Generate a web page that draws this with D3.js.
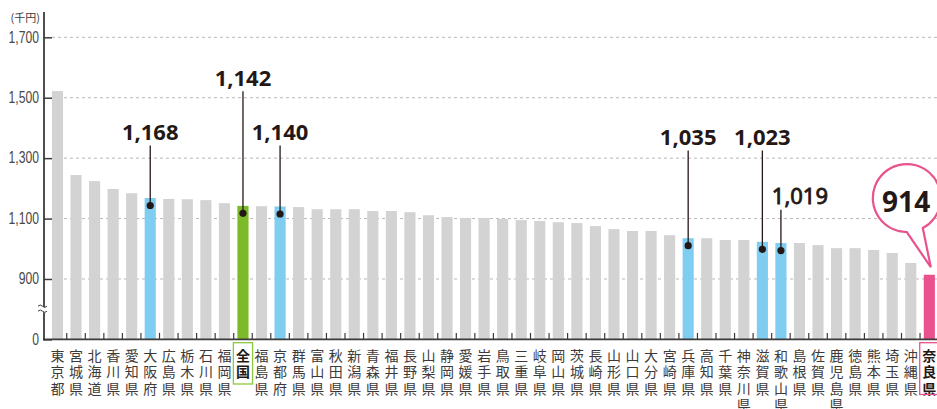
<!DOCTYPE html>
<html><head><meta charset="utf-8">
<script src="https://cdn.jsdelivr.net/npm/d3@7/dist/d3.min.js"></script>
<style>
html,body{margin:0;padding:0;background:#fff;}
svg{display:block;}
</style></head>
<body>
<svg id="chart" width="937" height="409"></svg>
<script>
const categories = ["東京都","宮城県","北海道","香川県","愛知県","大阪府","広島県","栃木県","石川県","福岡県","全国","福島県","京都府","群馬県","富山県","秋田県","新潟県","青森県","福井県","長野県","山梨県","静岡県","愛媛県","岩手県","鳥取県","三重県","岐阜県","岡山県","茨城県","長崎県","山形県","山口県","大分県","宮崎県","兵庫県","高知県","千葉県","神奈川県","滋賀県","和歌山県","島根県","佐賀県","鹿児島県","徳島県","熊本県","埼玉県","沖縄県","奈良県"];
const values = [1522,1244,1224,1198,1184,1168,1165,1164,1161,1151,1142,1141,1140,1138,1131,1131,1131,1125,1125,1121,1111,1105,1102,1102,1099,1095,1092,1088,1085,1075,1065,1059,1059,1045,1035,1035,1029,1029,1023,1019,1019,1012,1002,1002,996,986,953,914];
const tickValues = [700,900,1100,1300,1500,1700];
const tickLabels = ["0","900","1,100","1,300","1,500","1,700"];
const unitLabel = "(千円)";
const blueBars = ["大阪府","京都府","兵庫県","滋賀県","和歌山県"];
const nationalBar = "全国";
const focusBar = "奈良県";
const calloutBars = ["大阪府","全国","京都府","兵庫県","滋賀県","和歌山県"];

const COL = {gray:"#d3d3d3", blue:"#7fcdf1", green:"#7cba2a", pink:"#e9528d", ink:"#231815", text:"#3e3a39", grid:"#b8b8b8", greenBox:"#8cc63f"};

// callout layout (pixel baseline of label, horizontal offset, semibold)
const calloutLayout = {
  "大阪府":{by:140, dx:0, semi:false},
  "全国":{by:85.7, dx:0, semi:false},
  "京都府":{by:140, dx:0, semi:false},
  "兵庫県":{by:145, dx:0, semi:false},
  "滋賀県":{by:145, dx:0, semi:false},
  "和歌山県":{by:204.3, dx:19, semi:true}
};

const svg = d3.select("#chart");
const y = d3.scaleLinear().domain([700,1700]).range([339.4,37.3]);
const x = d3.scaleBand().domain(categories).range([48.2,938.6]).paddingInner(0.4).paddingOuter(0.2);
const data = categories.map((c,i)=>({c, v:values[i]}));
const fmt = d3.format(",");
const axisX = 44;

// gridlines
svg.append("g").selectAll("line").data(tickValues.slice(1)).join("line")
  .attr("x1",52).attr("x2",937).attr("y1",d=>y(d)).attr("y2",d=>y(d))
  .attr("stroke",COL.grid).attr("stroke-width",1).attr("stroke-dasharray","3,3");

// bars
function barColor(c){
  if(c===focusBar) return COL.pink;
  if(c===nationalBar) return COL.green;
  if(blueBars.includes(c)) return COL.blue;
  return COL.gray;
}
svg.append("g").selectAll("rect").data(data).join("rect")
  .attr("x",d=>x(d.c)).attr("width",x.bandwidth())
  .attr("y",d=>y(d.v)).attr("height",d=>y(700)-y(d.v))
  .attr("fill",d=>barColor(d.c));

// x ticks between bars
const step = x.step();
svg.append("g").selectAll("line").data(categories.slice(1)).join("line")
  .attr("x1",d=>x(d)+x.bandwidth()/2-step/2).attr("x2",d=>x(d)+x.bandwidth()/2-step/2)
  .attr("y1",y(700)-6.5).attr("y2",y(700))
  .attr("stroke",COL.text).attr("stroke-width",1.2);

// y axis
const sx = 0.76;
const yAxis = d3.axisLeft(y).tickValues(tickValues).tickSizeInner(-8).tickSizeOuter(0).tickPadding(5)
  .tickFormat((d,i)=>tickLabels[i]);
const gy = svg.append("g").attr("transform",`translate(${axisX},0)`).call(yAxis);
gy.select(".domain").remove();
gy.selectAll(".tick line").attr("stroke",COL.text).attr("stroke-width",1.5);
gy.selectAll(".tick text").attr("fill","#4a4646")
  .style("font-family","'Liberation Sans',sans-serif")
  .style("font-size","16px").attr("dy","0.3em")
  .attr("x",-5/sx).attr("transform",`scale(${sx},1)`);
svg.append("line").attr("x1",axisX).attr("x2",axisX).attr("y1",12).attr("y2",y(700)+1)
  .attr("stroke",COL.text).attr("stroke-width",1.8);
// baseline
svg.append("line").attr("x1",axisX-1).attr("x2",937).attr("y1",y(700)).attr("y2",y(700))
  .attr("stroke",COL.text).attr("stroke-width",1.8);

// axis break
const by = y(800);
svg.append("path")
  .attr("d",`M38,${by-3} q2.25,-2.4 4.5,0 t4.5,0 L47,${by+2} q-2.25,2.4 -4.5,0 t-4.5,0 Z`)
  .attr("fill","#fff").attr("stroke","none");
[by-3, by+2].forEach(yy=>{
  svg.append("path").attr("d",`M38,${yy} q2.25,-2.4 4.5,0 t4.5,0`)
    .attr("fill","none").attr("stroke",COL.text).attr("stroke-width",1);
});

// unit
svg.append("text").attr("x",40).attr("y",22).attr("text-anchor","end")
  .style("font-family","'Noto Sans CJK JP',sans-serif").style("font-size","11px")
  .attr("fill",COL.text).text(unitLabel);

// category labels (vertical)
const rowStep = 16.5;
const lbl = svg.append("g").style("font-family","'Noto Sans CJK JP',sans-serif").style("font-size","14px");
data.forEach(d=>{
  const cx = x(d.c)+x.bandwidth()/2;
  const bold = (d.c===nationalBar||d.c===focusBar);
  const t = lbl.append("text").attr("text-anchor","middle").attr("fill",bold?COL.ink:COL.text)
    .style("font-weight",bold?700:400);
  Array.from(d.c).forEach((ch,i)=>{
    t.append("tspan").attr("x",cx).attr("y",360.5+i*rowStep).text(ch);
  });
  if(bold){
    const rows = Array.from(d.c).length;
    svg.append("rect").attr("x",cx-9.6).attr("y",342.7).attr("width",19.2)
      .attr("height",rows===2?41.3:51.8)
      .attr("fill","none").attr("stroke",d.c===focusBar?COL.pink:COL.greenBox).attr("stroke-width",1.3);
  }
});

// callouts
const cg = svg.append("g");
data.filter(d=>calloutBars.includes(d.c)).forEach(d=>{
  const L = calloutLayout[d.c];
  const cx = x(d.c)+x.bandwidth()/2;
  const dotY = y(d.v)+7.5;
  cg.append("line").attr("x1",cx).attr("x2",cx).attr("y1",L.by+5.5).attr("y2",dotY)
    .attr("stroke",COL.ink).attr("stroke-width",1.3);
  cg.append("circle").attr("cx",cx).attr("cy",dotY).attr("r",3.6).attr("fill",COL.ink);
  const t = cg.append("text").attr("x",cx+L.dx).attr("y",L.by).attr("text-anchor","middle")
    .style("font-family","'Noto Sans',sans-serif")
    .style("font-size","22px").style("font-weight",L.semi?400:700)
    .attr("fill",COL.ink).text(fmt(d.v));
  if(L.semi) t.attr("stroke",COL.ink).attr("stroke-width",0.8);
});

// focus bubble
const f = data.find(d=>d.c===focusBar);
const fx = x(f.c)+x.bandwidth()/2, fy = y(f.v);
const ccx = fx-22.5, ccy = fy-76.7, r = 34;
const a1 = 90*Math.PI/180, a2 = 62*Math.PI/180;
const p1 = [ccx+r*Math.cos(a1), ccy+r*Math.sin(a1)];
const p2 = [ccx+r*Math.cos(a2), ccy+r*Math.sin(a2)];
const tip = [fx+1.5, fy-7.5];
svg.append("path")
  .attr("d",`M${p1[0]},${p1[1]} A${r},${r} 0 1 1 ${p2[0]},${p2[1]} L${tip[0]},${tip[1]} Z`)
  .attr("fill","#fff").attr("stroke",COL.pink).attr("stroke-width",2.2).attr("stroke-linejoin","miter");
svg.append("text").attr("x",ccx-0.7).attr("y",ccy+14).attr("text-anchor","middle")
  .style("font-family","'Noto Sans',sans-serif").style("font-size","28px").style("font-weight",700)
  .attr("fill",COL.ink).text(fmt(f.v));
</script>
</body></html>
